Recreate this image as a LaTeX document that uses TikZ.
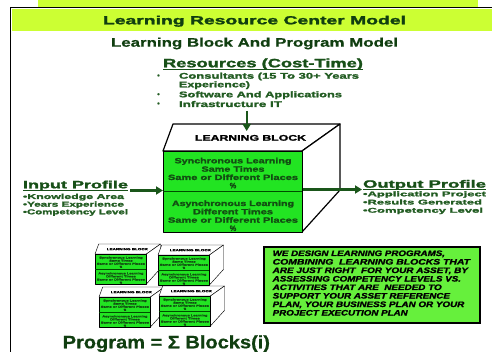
\documentclass[tikz,border=0pt]{standalone}
\usepackage{fontspec}
\setmainfont{Liberation Sans}
\newfontfamily\heavy{Liberation Sans}[FakeBold=1.6]
\newfontfamily\semiheavy{Liberation Sans}[FakeBold=0.6]
\usepackage{graphicx}
\usetikzlibrary{arrows.meta}
\definecolor{lime}{RGB}{204,255,51}
\definecolor{titlegreen}{RGB}{16,62,16}
\definecolor{headgreen}{RGB}{24,80,24}
\definecolor{itemgreen}{RGB}{34,92,34}
\definecolor{cubegreen}{RGB}{34,228,34}
\definecolor{boxgreen}{RGB}{102,240,60}
\definecolor{cubetext}{RGB}{18,78,18}
\definecolor{arrowgreen}{RGB}{26,86,26}
\newcommand{\rb}[3]{\resizebox{#1pt}{#2pt}{#3}}
\tikzset{
  txt/.style={inner sep=0pt, outer sep=0pt, anchor=base west, font=\heavy\bfseries},
  ctxt/.style={inner sep=0pt, outer sep=0pt, anchor=base, font=\heavy\bfseries},
  bul/.style={inner sep=0pt, outer sep=0pt, anchor=base, text=itemgreen, font=\heavy\bfseries\fontsize{7}{7}\selectfont},
  edge/.style={draw=black, line width=1.2pt, line join=round},
  divline/.style={draw=black!70!green, line width=0.6pt},
  arr/.style={draw=arrowgreen, line width=2.2pt, -{Triangle[length=7pt,width=8pt]}},
  uline/.style={line width=1.1pt},
  lblock/.pic={
    \path[edge, fill=white] (0,0) -- (10,-27) -- (177,-27) -- (139,0) -- cycle;
    \path[edge, fill=white] (139,0) -- (177,-27) -- (177,39) -- (139,81) -- cycle;
    \node[edge, fill=cubegreen, anchor=north west, minimum width=139pt, minimum height=81pt, inner sep=0pt] (-front) at (0,0) {};
    \coordinate (-topin) at (83.7,-20);
    \draw[divline] (0,40) -- (139,40);
    \node[ctxt, text=black] (-title) at (87.5,-10.3) {\rb{111}{5.7}{LEARNING BLOCK}};
    \node[ctxt, text=cubetext] (-s1) at (70,12.3) {\rb{117}{5.5}{Synchronous Learning}};
    \node[ctxt, text=cubetext] (-s2) at (70,20.7) {\rb{63}{5.5}{Same Times}};
    \node[ctxt, text=cubetext] (-s3) at (70,29) {\rb{130}{5.5}{Same or Different Places}};
    \node[ctxt, text=cubetext] (-s4) at (70,37.3) {\rb{6.5}{5.5}{\%}};
    \node[ctxt, text=cubetext] (-a1) at (70,55) {\rb{122}{5.5}{Asynchronous Learning}};
    \node[ctxt, text=cubetext] (-a2) at (70,63.3) {\rb{80}{5.5}{Different Times}};
    \node[ctxt, text=cubetext] (-a3) at (70,71.7) {\rb{130}{5.5}{Same or Different Places}};
    \node[ctxt, text=cubetext] (-a4) at (70,80) {\rb{6.5}{5.5}{\%}};
  }
}
\begin{document}
\begin{tikzpicture}[x=1pt,y=-1pt]
\useasboundingbox (0,0) rectangle (492,352);
\fill[white] (0,0) rectangle (492,352);
% header
\fill[lime] (38,0) rectangle (478,7);
\draw[black, line width=1.6pt] (10.3,352) -- (10.3,7.5) -- (492,7.5);
\fill[lime] (11.5,9.3) rectangle (492,31);
\node[ctxt, text=titlegreen] (title) at (254.5,24.3) {\rb{303}{8.5}{Learning Resource Center Model}};
\node[ctxt, text=titlegreen, font=\semiheavy\bfseries] (subtitle) at (254.5,46.7) {\rb{287}{9}{Learning Block And Program Model}};
% resources
\node[txt, text=headgreen] (reshead) at (163,67.3) {\rb{200}{8.8}{Resources (Cost-Time)}};
\draw[headgreen, uline] (reshead.base west) ++(0,2.2) -- ++(200,0);
\node[txt, text=itemgreen] (r1) at (179,78.7) {\rb{180}{6}{Consultants (15 To 30+ Years}};
\node[txt, text=itemgreen] (r1b) at (179,87.3) {\rb{71}{6}{Experience)}};
\node[txt, text=itemgreen] (r2) at (179,97.3) {\rb{163}{6}{Software And Applications}};
\node[txt, text=itemgreen] (r3) at (179,107) {\rb{103}{6}{Infrastructure IT}};
\node[bul] (b1) at (158.5,77.8) {•};
\node[bul] (b2) at (158.5,96.5) {•};
\node[bul] (b3) at (158.5,105.8) {•};
% big learning block
\pic (LB) at (163,151) {lblock};
\coordinate (resend) at (246.7,111);
\draw[arr] (resend) -- (LB-topin);
% input profile
\node[txt, text=headgreen] (inhead) at (23,188.3) {\rb{105}{7.7}{Input Profile}};
\draw[headgreen, uline] (inhead.base west) ++(0,2) -- ++(105,0);
\node[txt, text=itemgreen] (in1) at (23,199) {\rb{101}{5.2}{•Knowledge Area}};
\node[txt, text=itemgreen] (in2) at (23,206.7) {\rb{101}{5.2}{•Years Experience}};
\node[txt, text=itemgreen] (in3) at (23,214.3) {\rb{105}{5.2}{•Competency Level}};
\coordinate (instart) at (130,190.5);
\draw[arr] (instart) -- (instart -| LB-front.west);
% output profile
\node[txt, text=headgreen] (outhead) at (363,187.7) {\rb{123}{7.7}{Output Profile}};
\draw[headgreen, uline] (outhead.base west) ++(0,2) -- ++(123,0);
\node[txt, text=itemgreen] (out1) at (363,196.3) {\rb{123}{5}{•Application Project}};
\node[txt, text=itemgreen] (out2) at (363,204.5) {\rb{119}{5}{•Results Generated}};
\node[txt, text=itemgreen] (out3) at (363,212.7) {\rb{120}{5}{•Competency Level}};
\coordinate (outend) at (362,189.5);
\draw[arr] (LB-front.east |- outend) -- (outend);
% small blocks
\begin{scope}[edge/.style={draw=black, line width=0.45pt, line join=round}, divline/.style={draw=black!70!green, line width=0.3pt}]
\pic[scale=0.37, transform shape] (A) at (95,254) {lblock};
\pic[scale=0.37, transform shape] (B) at (158,255) {lblock};
\pic[scale=0.37, transform shape] (C) at (99,297) {lblock};
\pic[scale=0.37, transform shape] (D) at (159,296) {lblock};
\end{scope}
% green text box
\node[draw=black, line width=1.6pt, fill=boxgreen, minimum width=216pt, minimum height=76pt, anchor=north west, inner sep=0pt] (gbox) at (263,246) {};
\begin{scope}[every node/.style={txt, text=black, font=\heavy\bfseries\itshape}]
\node (g1) at (272.7,256) {\rb{172.3}{5.5}{WE DESIGN LEARNING PROGRAMS,}};
\node (g2) at (272.7,264.5) {\rb{197.3}{5.5}{COMBINING\ \ LEARNING BLOCKS THAT}};
\node (g3) at (272.7,273) {\rb{195.3}{5.5}{ARE JUST RIGHT\ \ FOR YOUR ASSET, BY}};
\node (g4) at (272.7,281.5) {\rb{188.3}{5.5}{ASSESSING COMPETENCY LEVELS VS.}};
\node (g5) at (272.7,290) {\rb{169}{5.5}{ACTIVITIES THAT ARE\ \ NEEDED TO}};
\node (g6) at (272.7,298.5) {\rb{177.3}{5.5}{SUPPORT YOUR ASSET REFERENCE}};
\node (g7) at (272.7,307) {\rb{191.6}{5.5}{PLAN, YOUR BUSINESS PLAN OR YOUR}};
\node (g8) at (272.7,315.5) {\rb{135}{5.5}{PROJECT EXECUTION PLAN}};
\end{scope}
% program formula
\node[txt, text=titlegreen, font=\semiheavy\bfseries] (prog) at (62.7,348.3) {\rb{207.3}{13}{Program = Σ Blocks(i)}};
\end{tikzpicture}
\end{document}
